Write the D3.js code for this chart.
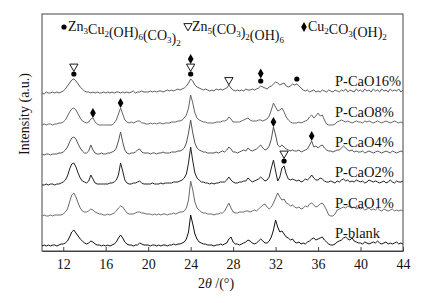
<!DOCTYPE html>
<html><head><meta charset="utf-8">
<script src="https://cdn.jsdelivr.net/npm/d3@7"></script>
<style>body{margin:0;background:#fff}svg{display:block}text{font-family:"Liberation Serif","Times New Roman",serif}</style>
</head><body>
<svg id="c" width="432" height="303"></svg>
<script>
// ---- data ----
const thetaStart = 10, thetaStep = 0.2, nPoints = 171;
const xTicks = [12,16,20,24,28,32,36,40,44];
const seriesNames = ["P-blank","P-CaO1%","P-CaO2%","P-CaO4%","P-CaO8%","P-CaO16%"];
const seriesOffsets = [5,35,66,96,126,157];
const pBlank = [
 0,1,0,1,0,1,1,0,1,2, 2,3,5,9,14,16,13,10,7,5, 3,2,3,5,4,2,1,1,0,1, 0,1,0,1,2,4,8,11,8,4,
 2,1,1,0,1,1,3,2,1,1, 1,0,1,1,0,1,0,1,1,0, 1,1,2,1,2,2,3,4,7,14, 31,22,12,7,4,3,2,2,1,1,
 1,0,1,1,2,1,2,3,7,9, 4,2,2,1,2,3,4,6,5,3, 2,3,5,7,5,3,3,5,9,16, 26,19,14,15,12,9,8,6,7,4,
 3,4,2,3,2,4,5,7,8,6, 7,8,9,6,4,2,1,1,2,4, 5,6,8,9,7,6,8,5,4,3, 3,2,4,3,2,3,4,3,5,3,
 2,3,4,2,3,2,3,4,2,3,2];
const pCaO1 = [
 0,1,0,0,1,0,1,1,1,1, 2,4,7,14,21,23,19,13,8,5, 4,4,5,7,6,4,3,2,2,1, 1,2,1,2,3,5,8,10,9,6,
 3,2,2,2,3,4,4,3,3,2, 2,2,1,2,1,2,1,2,2,1, 2,2,3,2,3,4,4,5,8,16, 35,26,14,8,6,4,3,3,2,2,
 2,1,2,2,3,3,5,9,13,8, 4,3,3,4,4,4,5,5,4,5, 6,5,7,9,11,12,9,7,9,13, 18,23,19,16,17,13,12,10,11,9,
 8,9,7,8,10,9,12,13,11,9, 10,12,13,10,6,1,0,0,2,6, 7,8,9,8,10,9,8,9,7,8, 7,8,6,7,8,6,7,6,8,6,
 5,7,6,5,6,7,5,6,5,6,5];
const pCaO2 = [
 0,0,1,0,1,1,0,1,1,2, 3,5,9,16,21,22,18,12,7,4, 3,2,4,10,6,2,1,1,1,1, 1,1,2,2,3,5,10,22,14,5,
 2,1,1,2,2,3,4,2,1,1, 1,1,2,1,1,1,2,1,2,2, 2,2,3,3,3,4,5,7,11,22, 38,24,12,7,5,3,3,2,2,1,
 2,1,2,2,3,3,3,5,8,5, 3,2,2,3,3,4,4,7,5,3, 4,5,6,8,6,4,5,8,17,25, 14,4,8,17,19,11,6,5,6,5,
 4,5,3,4,6,5,7,10,7,5, 5,7,6,4,3,3,4,3,2,4, 3,5,6,4,5,3,4,3,5,4, 3,4,2,3,5,4,3,4,3,2,
 3,4,2,3,5,3,2,4,3,3,4];
const pCaO4 = [
 1,0,1,1,0,1,1,1,2,2, 3,5,8,13,17,18,16,11,7,4, 2,2,4,10,5,2,1,1,2,1, 1,2,2,3,4,7,14,23,13,5,
 2,1,2,2,3,5,6,3,2,2, 2,1,2,2,1,2,2,3,2,2, 2,3,3,3,4,4,5,7,12,22, 35,22,12,7,5,4,3,3,2,2,
 2,2,3,2,3,4,3,5,8,6, 3,3,2,3,4,5,4,7,5,4, 5,6,8,10,7,5,6,9,16,28, 20,10,8,10,8,6,5,4,5,4,
 4,5,3,4,5,6,10,14,8,9, 7,9,10,7,5,4,4,3,4,5, 5,7,9,7,5,4,5,3,4,3, 3,4,2,3,4,3,2,3,4,3,
 2,3,4,3,2,4,3,2,3,4,3];
const pCaO8 = [
 0,1,0,1,1,0,1,1,2,2, 3,5,9,13,16,17,15,11,7,4, 3,2,3,6,7,3,1,0,0,0, 0,0,0,0,2,5,11,17,11,5,
 3,2,3,2,3,4,4,2,2,1, 1,2,1,2,1,2,2,1,2,2, 2,3,3,3,4,4,5,7,10,17, 30,22,12,7,5,4,3,3,2,2,
 2,2,3,3,3,4,4,5,8,6, 3,3,3,3,4,5,6,7,5,4, 4,4,5,5,4,5,6,9,15,22, 18,14,15,17,13,8,5,3,2,2,
 2,3,2,3,4,5,8,10,7,9, 12,9,10,5,1,0,0,0,1,3, 4,5,4,3,4,3,2,3,4,3, 3,2,4,3,4,3,2,3,4,3,
 2,3,4,3,2,3,4,3,2,3,2];
const pCaO16 = [
 1,0,2,1,1,2,1,2,1,2, 3,5,8,11,14,15,13,10,7,5, 3,2,2,1,2,1,2,1,1,2, 1,2,1,2,1,2,2,1,2,1,
 2,1,2,3,1,2,2,3,2,2, 2,3,2,3,2,3,3,2,3,4, 3,4,3,4,5,4,5,6,8,11, 15,13,9,7,6,5,4,5,4,3,
 4,3,5,4,5,4,5,6,9,6, 4,3,4,3,4,3,5,4,4,5, 4,5,6,8,7,6,5,7,8,10, 12,11,9,10,11,8,7,8,10,9,
 10,8,6,4,3,4,2,3,4,2, 3,2,4,3,2,4,3,2,4,3, 2,4,3,5,2,4,3,2,5,3, 4,2,5,3,4,2,5,3,4,2,
 5,3,4,2,5,3,4,3,5,2,4];
const seriesValues = [pBlank,pCaO1,pCaO2,pCaO4,pCaO8,pCaO16];
// peak markers: series index, 2theta, stacked symbols (bottom to top)
const peakMarks = [
 {s:5, t:13.0, syms:["dot","tri"]},
 {s:5, t:24.0, syms:["dot","tri","dia"]},
 {s:5, t:27.6, syms:["tri"]},
 {s:5, t:30.6, syms:["dot","dia"]},
 {s:5, t:34.0, syms:["dot"]},
 {s:4, t:14.8, syms:["dia"]},
 {s:4, t:17.4, syms:["dia"]},
 {s:3, t:31.8, syms:["dia"]},
 {s:3, t:35.4, syms:["dia"]},
 {s:2, t:32.8, syms:["dot","tri"]}
];
const legendItems = [
 {sym:"dot", label:"Zn_3Cu_2(OH)_6(CO_3)_2"},
 {sym:"tri", label:"Zn_5(CO_3)_2(OH)_6"},
 {sym:"dia", label:"Cu_2CO_3(OH)_2"}
];
// ---- styles / layout ----
const seriesColors = ["#111","#6a6a6a","#222","#555","#666","#5a5a5a"];
const W=432,H=303, L=42, R=403, T=14, B=251;
const svg = d3.select("#c");
const x = d3.scaleLinear().domain([10,44]).range([L,R]);
const y = d3.scaleLinear().domain([0,B-T]).range([B,T]);
const thetas = d3.range(nPoints).map(i => thetaStart + i*thetaStep);

svg.append("rect").attr("x",L).attr("y",T).attr("width",R-L).attr("height",B-T)
  .attr("fill","none").attr("stroke","#444").attr("stroke-width",1);

const ax = svg.append("g").attr("transform",`translate(0,${B})`)
  .call(d3.axisBottom(x).tickValues(xTicks).tickSizeInner(-4).tickSizeOuter(0).tickPadding(8));
ax.select(".domain").attr("stroke","#444");
ax.selectAll(".tick line").attr("stroke","#444");
ax.selectAll(".tick text").attr("font-size",14).attr("fill","#111")
  .style("font-family",'"Liberation Serif",serif');

const line = d3.line().x((d,i)=>x(thetas[i])).y(d=>d);
seriesValues.forEach((vals,si)=>{
  svg.append("path")
    .attr("d", line(vals.map(v=>y(v+seriesOffsets[si]))))
    .attr("fill","none").attr("stroke",seriesColors[si]).attr("stroke-width",1)
    .attr("stroke-linejoin","round");
  svg.append("text").attr("x",335).attr("y",y(seriesOffsets[si])-8)
    .attr("font-size",14.5).attr("fill","#111").text(seriesNames[si]);
});

function drawSym(g, sym, cx, cy){
  if(sym==="dot") g.append("circle").attr("cx",cx).attr("cy",cy).attr("r",2.6).attr("fill","#000");
  else if(sym==="tri") g.append("path").attr("d",d3.symbol(d3.symbolTriangle,30)())
      .attr("transform",`translate(${cx},${cy}) rotate(180)`).attr("fill","#fff").attr("stroke","#000").attr("stroke-width",0.9);
  else g.append("path").attr("d",d3.symbol(d3.symbolDiamond,28)())
      .attr("transform",`translate(${cx},${cy})`).attr("fill","#000");
}
const mg = svg.append("g");
peakMarks.forEach(m=>{
  const idx = Math.round((m.t-thetaStart)/thetaStep);
  const py = y(seriesValues[m.s][idx]+seriesOffsets[m.s]);
  m.syms.forEach((s,k)=> drawSym(mg, s, x(m.t), py-5-7.5*k));
});

// legend
function formula(textSel, str){
  str.split(/(_\d)/).filter(p=>p.length).forEach(p=>{
    if(p[0]==="_"){
      textSel.append("tspan").attr("font-size",9).attr("dy",3).text(p[1]);
      textSel.append("tspan").attr("dy",-3).text("");
    } else textSel.append("tspan").text(p);
  });
}
const legX = [65, 189, 305];
legendItems.forEach((it,i)=>{
  drawSym(svg, it.sym, legX[i]-1, it.sym==="tri"?26:27);
  const t = svg.append("text").attr("x",legX[i]+3).attr("y",31).attr("font-size",14).attr("fill","#111");
  formula(t, it.label);
});

svg.append("text").attr("transform","translate(29,114) rotate(-90)").attr("text-anchor","middle")
  .attr("font-size",14).attr("fill","#111").text("Intensity (a.u.)");
const xt = svg.append("text").attr("x",216).attr("y",288).attr("text-anchor","middle").attr("font-size",14).attr("fill","#111");
xt.append("tspan").text("2");
xt.append("tspan").attr("font-style","italic").text("θ");
xt.append("tspan").text(" /(°)");
</script>
</body></html>
